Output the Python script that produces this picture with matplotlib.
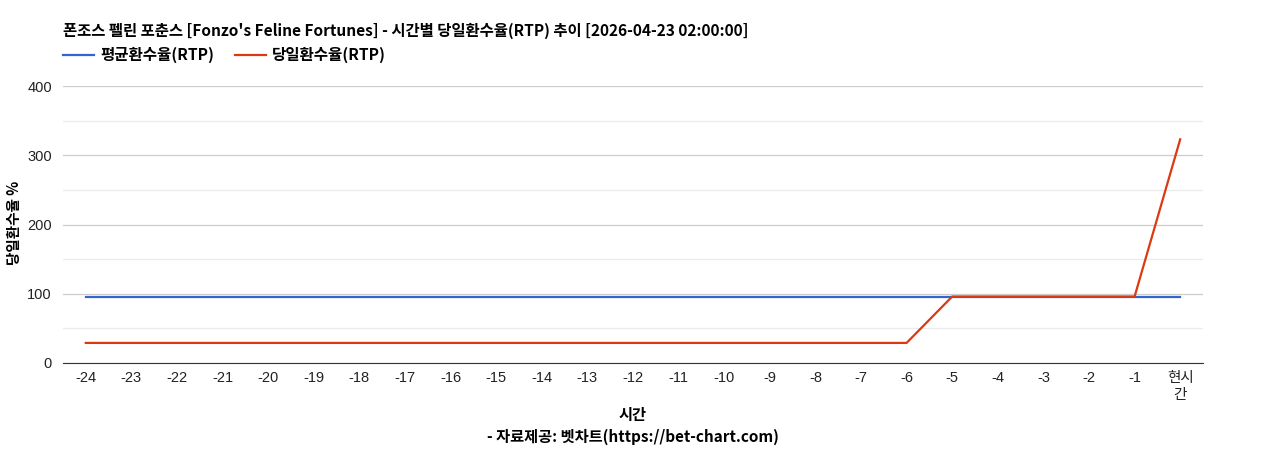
import matplotlib
matplotlib.use("Agg")
import matplotlib.pyplot as plt
from matplotlib.ticker import MultipleLocator

plt.rcParams['font.family'] = ['Liberation Sans', 'Noto Sans CJK KR', 'DejaVu Sans']

# 데이터
hours = ['-24', '-23', '-22', '-21', '-20', '-19', '-18', '-17', '-16', '-15',
         '-14', '-13', '-12', '-11', '-10', '-9', '-8', '-7', '-6', '-5',
         '-4', '-3', '-2', '-1', '현시\n간']
avg_rtp = [96] * 25
day_rtp = [29] * 19 + [96] * 5 + [323]

title = "폰조스 펠린 포춘스 [Fonzo's Feline Fortunes] - 시간별 당일환수율(RTP) 추이 [2026-04-23 02:00:00]"
kfont = ['Noto Sans CJK KR', 'DejaVu Sans']

fig = plt.figure(figsize=(12.68, 4.5), dpi=100)
ax = fig.add_axes([63 / 1268, 1 - 363 / 450, (1203 - 63) / 1268, (363 - 86) / 450])

x = list(range(len(hours)))
ax.plot(x, avg_rtp, color='#3366cc', lw=1.6, label='평균환수율(RTP)')
ax.plot(x, day_rtp, color='#dc3912', lw=1.6, label='당일환수율(RTP)')

ax.set_xlim(-0.5, len(hours) - 0.5)
ax.set_ylim(0, 400)
ax.yaxis.set_major_locator(MultipleLocator(100))
ax.yaxis.set_minor_locator(MultipleLocator(50))
ax.grid(axis='y', which='major', color='#cccccc', lw=0.9)
ax.grid(axis='y', which='minor', color='#ebebeb', lw=0.9)
ax.set_axisbelow(True)
ax.set_xticks(x)
ax.set_xticklabels(hours)
ax.tick_params(axis='both', which='both', length=0, labelsize=10.5, colors='#222222')
ax.tick_params(axis='x', pad=6)
ax.tick_params(axis='y', pad=8)
for s in ['top', 'right', 'left']:
    ax.spines[s].set_visible(False)
ax.spines['bottom'].set_color('#333333')

fig.text(14 / 1268, 1 - 223 / 450, '당일환수율 %', family=kfont, fontweight='bold',
         fontsize=10.5, rotation=90, va='center', ha='center')

fig.text(63 / 1268, 1 - 31 / 450, title, family=kfont, fontweight='bold',
         fontsize=11.1, va='center', ha='left')
fig.text(633 / 1268, 1 - 415 / 450, '시간', family=kfont, fontweight='bold',
         fontsize=11, va='center', ha='center')
fig.text(633 / 1268, 1 - 437 / 450, '- 자료제공: 벳차트(https://bet-chart.com)', family=kfont,
         fontweight='bold', fontsize=11, va='center', ha='center')

leg = ax.legend(loc='center left', bbox_to_anchor=(63 / 1268, 1 - 55 / 450), bbox_transform=fig.transFigure,
                ncol=2, frameon=False, handlelength=2.0, handletextpad=0.4, columnspacing=1.3,
                borderaxespad=0, borderpad=0, prop={'family': kfont, 'weight': 'bold', 'size': 11.2})

fig.savefig('out.png', dpi=100)
